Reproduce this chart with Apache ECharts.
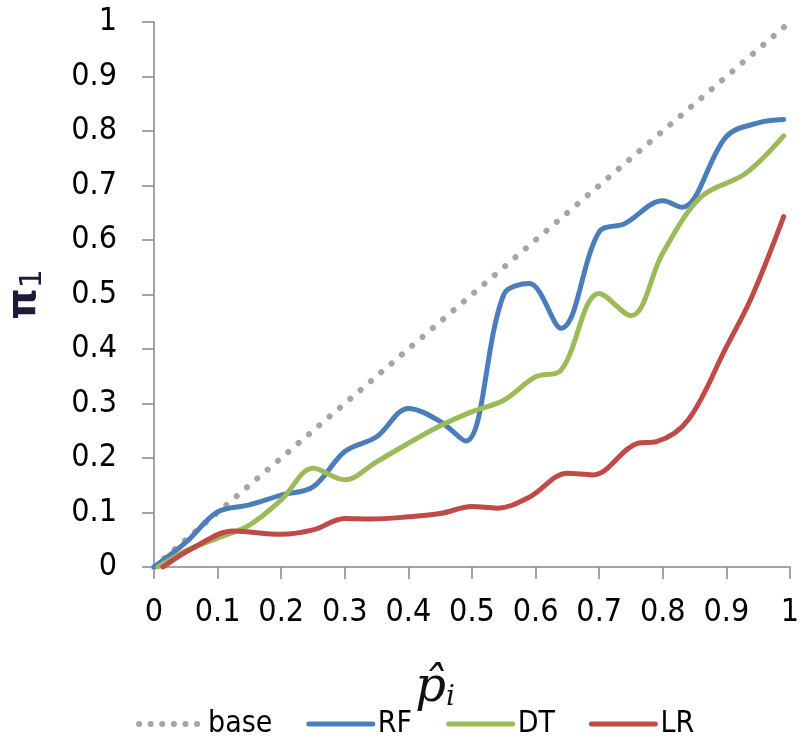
<!DOCTYPE html>
<html>
<head>
<meta charset="utf-8">
<script src="https://cdn.jsdelivr.net/npm/echarts@6/dist/echarts.min.js"></script>
<style>
  html, body { margin: 0; padding: 0; background: #fff; }
  #chart { width: 800px; height: 744px; }
</style>
</head>
<body>
<div id="chart"></div>
<script>
// Calibration curves: observed rate vs. mean predicted probability
const seriesNames = ['base', 'RF', 'DT', 'LR'];

const baseX = [0, 1];
const baseY = [0, 1];

const rfX = [0.00, 0.05, 0.10, 0.15, 0.20, 0.25, 0.30, 0.35, 0.40, 0.45, 0.49, 0.55, 0.59, 0.64, 0.70, 0.74, 0.80, 0.83, 0.90, 0.95, 0.99];
const rfY = [0.00, 0.045, 0.101, 0.114, 0.132, 0.147, 0.212, 0.239, 0.291, 0.267, 0.231, 0.50, 0.52, 0.438, 0.615, 0.630, 0.672, 0.660, 0.790, 0.815, 0.821];

const dtX = [0.006, 0.05, 0.10, 0.15, 0.20, 0.25, 0.30, 0.35, 0.40, 0.45, 0.50, 0.55, 0.60, 0.64, 0.70, 0.75, 0.80, 0.86, 0.93, 0.99];
const dtY = [0.00, 0.03, 0.053, 0.077, 0.123, 0.181, 0.160, 0.193, 0.227, 0.259, 0.285, 0.306, 0.349, 0.361, 0.502, 0.461, 0.576, 0.679, 0.722, 0.791];

const lrX = [0.014, 0.06, 0.125, 0.20, 0.25, 0.30, 0.34, 0.40, 0.45, 0.50, 0.54, 0.59, 0.65, 0.69, 0.76, 0.79, 0.84, 0.90, 0.94, 0.99];
const lrY = [0.00, 0.034, 0.066, 0.060, 0.068, 0.089, 0.088, 0.092, 0.098, 0.111, 0.108, 0.128, 0.172, 0.169, 0.227, 0.230, 0.270, 0.404, 0.496, 0.643];

const pairs = (xs, ys) => xs.map((x, i) => [x, ys[i]]);

const tickFont = "'Liberation Sans Narrow', 'DejaVu Sans Condensed', Lato, sans-serif";
const axisColor = '#868686';

const styles = {
  base: { color: '#a5a5a5', width: 6, type: [0.1, 13.5], cap: 'round' },
  RF:   { color: '#4a7ebb', width: 5, type: 'solid', cap: 'round' },
  DT:   { color: '#9bbb59', width: 5, type: 'solid', cap: 'round' },
  LR:   { color: '#be4b48', width: 5, type: 'solid', cap: 'round' }
};

const chart = echarts.init(document.getElementById('chart'), null, { renderer: 'canvas' });

chart.setOption({
  animation: false,
  backgroundColor: '#ffffff',
  grid: { left: 154, right: 10, top: 22, bottom: 177, containLabel: false, outerBoundsMode: 'none' },
  legend: {
    left: 131,
    top: 704,
    itemWidth: 64,
    itemHeight: 14,
    itemGap: 34,
    itemStyle: { opacity: 0 },
    data: seriesNames.map(n => ({
      name: n,
      lineStyle: { width: n === 'base' ? 6 : 5, color: styles[n].color, type: n === 'base' ? [0.1, 11.5] : 'solid', cap: 'round' }
    })),
    textStyle: { fontFamily: tickFont, fontSize: 30, color: '#000' }
  },
  xAxis: {
    type: 'value',
    min: 0, max: 1, interval: 0.1,
    name: '{p|p̂}{i|i}',
    nameLocation: 'middle',
    nameGap: 98,
    nameTextStyle: {
      padding: [0, 74, 0, 0],
      rich: {
        p: { fontFamily: "'DejaVu Serif', serif", fontStyle: 'italic', fontSize: 48, color: '#111' },
        i: { fontFamily: "'DejaVu Serif', serif", fontStyle: 'italic', fontSize: 28, color: '#111', padding: [18, 0, 0, 0] }
      }
    },
    axisLine: { lineStyle: { color: axisColor, width: 1.5 } },
    axisTick: { length: 12, lineStyle: { color: axisColor, width: 1.5 } },
    axisLabel: {
      margin: 30,
      fontFamily: tickFont, fontSize: 32, color: '#000',
      formatter: v => String(Math.round(v * 10) / 10)
    },
    splitLine: { show: false }
  },
  yAxis: {
    type: 'value',
    min: 0, max: 1, interval: 0.1,
    name: '{a|π}{b|1}',
    nameLocation: 'middle',
    nameGap: 106,
    nameTextStyle: {
      rich: {
        a: { fontFamily: "'DejaVu Sans', sans-serif", fontSize: 40, fontWeight: 'bold', color: '#1c1c3a' },
        b: { fontFamily: "'DejaVu Sans', sans-serif", fontSize: 30, color: '#1c1c3a', padding: [16, 0, 0, 0] }
      }
    },
    axisLine: { show: true, lineStyle: { color: axisColor, width: 1.5 } },
    axisTick: { show: true, length: 12, lineStyle: { color: axisColor, width: 1.5 } },
    axisLabel: {
      margin: 37,
      fontFamily: tickFont, fontSize: 32, color: '#000',
      formatter: v => String(Math.round(v * 10) / 10)
    },
    splitLine: { show: false }
  },
  series: [
    {
      name: 'base', type: 'line', symbol: 'none',
      data: pairs(baseX, baseY),
      lineStyle: styles.base,
      itemStyle: { color: styles.base.color }
    },
    {
      name: 'RF', type: 'line', symbol: 'none', smooth: 0.35,
      data: pairs(rfX, rfY),
      lineStyle: styles.RF,
      itemStyle: { color: styles.RF.color }
    },
    {
      name: 'DT', type: 'line', symbol: 'none', smooth: 0.35,
      data: pairs(dtX, dtY),
      lineStyle: styles.DT,
      itemStyle: { color: styles.DT.color }
    },
    {
      name: 'LR', type: 'line', symbol: 'none', smooth: 0.35,
      data: pairs(lrX, lrY),
      lineStyle: styles.LR,
      itemStyle: { color: styles.LR.color }
    }
  ]
});
</script>
</body>
</html>
